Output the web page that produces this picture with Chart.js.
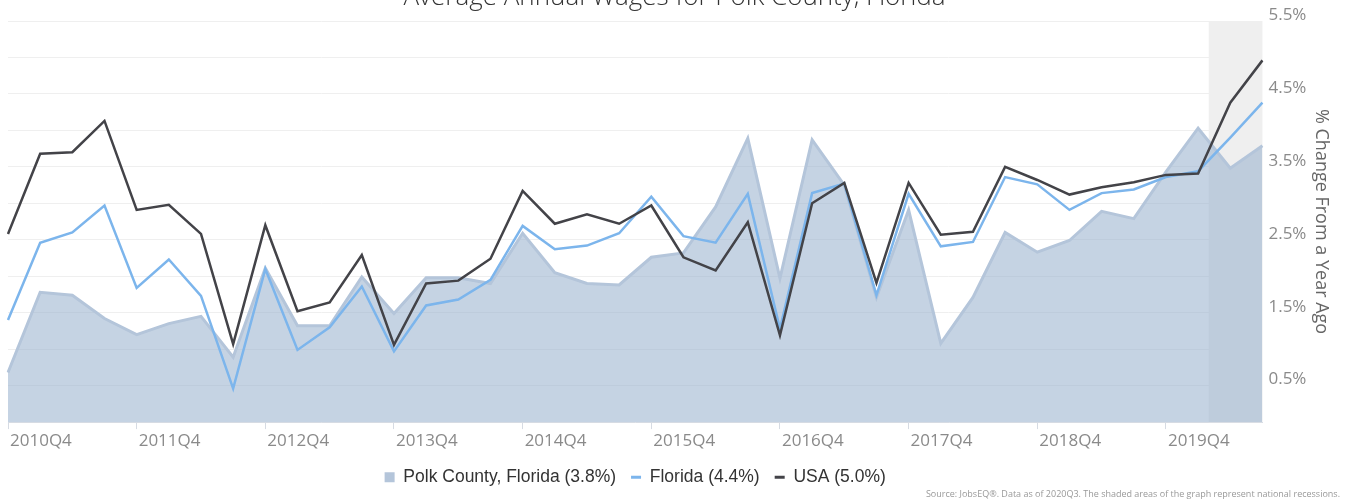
<!DOCTYPE html>
<html>
<head>
<meta charset="utf-8">
<script src="https://cdn.jsdelivr.net/npm/chart.js@4.4.0/dist/chart.umd.min.js"></script>
<style>
  html, body { margin: 0; padding: 0; background: #fff; }
  #wrap { width: 1349px; height: 503px; position: relative; }
</style>
</head>
<body>
<div id="wrap"><canvas id="wagesChart"></canvas></div>
<script>
const quarters = [
    '2010Q4', '2011Q1', '2011Q2', '2011Q3', '2011Q4', '2012Q1', '2012Q2', '2012Q3',
    '2012Q4', '2013Q1', '2013Q2', '2013Q3', '2013Q4', '2014Q1', '2014Q2', '2014Q3',
    '2014Q4', '2015Q1', '2015Q2', '2015Q3', '2015Q4', '2016Q1', '2016Q2', '2016Q3',
    '2016Q4', '2017Q1', '2017Q2', '2017Q3', '2017Q4', '2018Q1', '2018Q2', '2018Q3',
    '2018Q4', '2019Q1', '2019Q2', '2019Q3', '2019Q4', '2020Q1', '2020Q2', '2020Q3'
];

// % change from a year ago
const polkCounty = [0.68, 1.78, 1.74, 1.42, 1.20, 1.35, 1.45, 0.89, 2.11, 1.32, 1.32, 1.99, 1.49, 1.98, 1.98, 1.90,
    2.59, 2.05, 1.90, 1.88, 2.26, 2.32, 2.95, 3.89, 1.97, 3.87, 3.25, 1.71, 2.91, 1.08, 1.71, 2.60,
    2.33, 2.49, 2.89, 2.79, 3.43, 4.03, 3.48, 3.79];
const florida = [1.40, 2.46, 2.60, 2.97, 1.84, 2.23, 1.73, 0.46, 2.10, 0.99, 1.30, 1.86, 0.97, 1.60, 1.68, 1.95,
    2.69, 2.37, 2.42, 2.59, 3.09, 2.55, 2.46, 3.13, 1.28, 3.14, 3.27, 1.74, 3.13, 2.41, 2.47, 3.36,
    3.26, 2.91, 3.14, 3.19, 3.36, 3.44, 3.90, 4.38];
const usa = [2.58, 3.68, 3.70, 4.13, 2.91, 2.98, 2.58, 1.07, 2.70, 1.52, 1.64, 2.29, 1.06, 1.90, 1.94, 2.24,
    3.17, 2.72, 2.85, 2.72, 2.97, 2.26, 2.08, 2.74, 1.19, 3.00, 3.28, 1.91, 3.28, 2.57, 2.61, 3.50,
    3.32, 3.12, 3.22, 3.29, 3.39, 3.41, 4.38, 4.96];

const legendNames = ['Polk County, Florida (3.8%)', 'Florida (4.4%)', 'USA (5.0%)'];

// recession band, in quarter index units (Feb 2020 -> end)
const recessionStart = 37.33;
const recessionEnd = 39;

const titleText = 'Average Annual Wages for Polk County, Florida';
const sourceText = 'Source: JobsEQ\u00ae. Data as of 2020Q3. The shaded areas of the graph represent national recessions.';

const recessionBand = {
    id: 'recessionBand',
    beforeDatasetsDraw(chart) {
        const x = chart.scales.x;
        const area = chart.chartArea;
        const x0 = x.getPixelForValue(recessionStart);
        const x1 = x.getPixelForValue(recessionEnd);
        const c = chart.ctx;
        c.save();
        c.fillStyle = '#efefef';
        c.fillRect(x0, area.top, x1 - x0, area.bottom - area.top);
        c.restore();
    }
};

const extraText = {
    id: 'extraText',
    afterDraw(chart) {
        const c = chart.ctx;
        c.save();
        c.fillStyle = '#333333';
        c.font = '300 26px "Open Sans"';
        c.textAlign = 'center';
        c.textBaseline = 'alphabetic';
        c.fillText(titleText, chart.width / 2, 5);

        c.fillStyle = '#999999';
        c.font = '9px "Open Sans"';
        c.textAlign = 'right';
        c.textBaseline = 'middle';
        c.fillText(sourceText, chart.width - 9, 494);
        c.restore();
    }
};

let ctx = document.getElementById('wagesChart').getContext('2d');
let chart = new Chart(ctx, {
    type: 'line',
    data: {
        labels: quarters,
        datasets: [{
            label: legendNames[0],
            data: polkCounty,
            borderColor: '#b4c5da',
            backgroundColor: 'rgba(150,174,204,0.55)',
            borderWidth: 3,
            fill: 'origin',
            pointRadius: 0,
            tension: 0,
            order: 3
        }, {
            label: legendNames[1],
            data: florida,
            borderColor: '#7cb5ec',
            backgroundColor: '#7cb5ec',
            borderWidth: 2.5,
            fill: false,
            pointRadius: 0,
            tension: 0,
            order: 2
        }, {
            label: legendNames[2],
            data: usa,
            borderColor: '#434348',
            backgroundColor: '#434348',
            borderWidth: 2.5,
            fill: false,
            pointRadius: 0,
            tension: 0,
            order: 1
        }]
    },
    options: {
        responsive: true,
        maintainAspectRatio: false,
        animation: false,
        layout: { padding: { left: 8, right: 13, top: 21, bottom: 7 } },
        plugins: {
            tooltip: { enabled: false },
            legend: {
                position: 'bottom',
                fullSize: false,
                labels: {
                    usePointStyle: true,
                    boxWidth: 10,
                    boxHeight: 10,
                    pointStyleWidth: 10,
                    padding: 15,
                    color: '#333333',
                    font: { family: '"Liberation Sans", Arial, sans-serif', size: 17.5 },
                    generateLabels(ch) {
                        return ch.data.datasets.map((ds, i) => ({
                            text: ds.label,
                            datasetIndex: i,
                            fillStyle: i === 0 ? '#b4c5da' : ds.borderColor,
                            strokeStyle: i === 0 ? '#b4c5da' : ds.borderColor,
                            lineWidth: i === 0 ? 0 : 3,
                            pointStyle: i === 0 ? 'rect' : 'line',
                            fontColor: '#333333',
                            hidden: false
                        }));
                    }
                }
            }
        },
        scales: {
            x: {
                offset: false,
                grid: { display: true, drawOnChartArea: false, drawTicks: true, tickLength: 7, color: '#d6dbe3' },
                border: { display: true, color: '#d6dbe3' },
                ticks: {
                    autoSkip: false,
                    maxRotation: 0,
                    align: 'start',
                    labelOffset: 2,
                    padding: 2,
                    color: '#8a8a8a',
                    font: { family: '"Open Sans"', size: 17 },
                    callback: function (value, index) {
                        return index % 4 === 0 ? this.getLabelForValue(value) : null;
                    }
                }
            },
            y: {
                position: 'right',
                min: 0,
                max: 5.5,
                grid: { color: '#efefef', drawTicks: false },
                border: { display: false },
                ticks: {
                    stepSize: 0.5,
                    padding: 6,
                    labelOffset: -6,
                    color: '#8a8a8a',
                    font: { family: '"Open Sans"', size: 17 },
                    callback: function (v) {
                        return Math.round(v * 2) % 2 === 1 ? v.toFixed(1) + '%' : '';
                    }
                },
                title: {
                    display: true,
                    text: '% Change From a Year Ago',
                    color: '#666666',
                    font: { family: '"Open Sans"', size: 18 },
                    padding: { top: 4, bottom: -2 }
                }
            }
        }
    },
    plugins: [recessionBand, extraText]
});
</script>
</body>
</html>
